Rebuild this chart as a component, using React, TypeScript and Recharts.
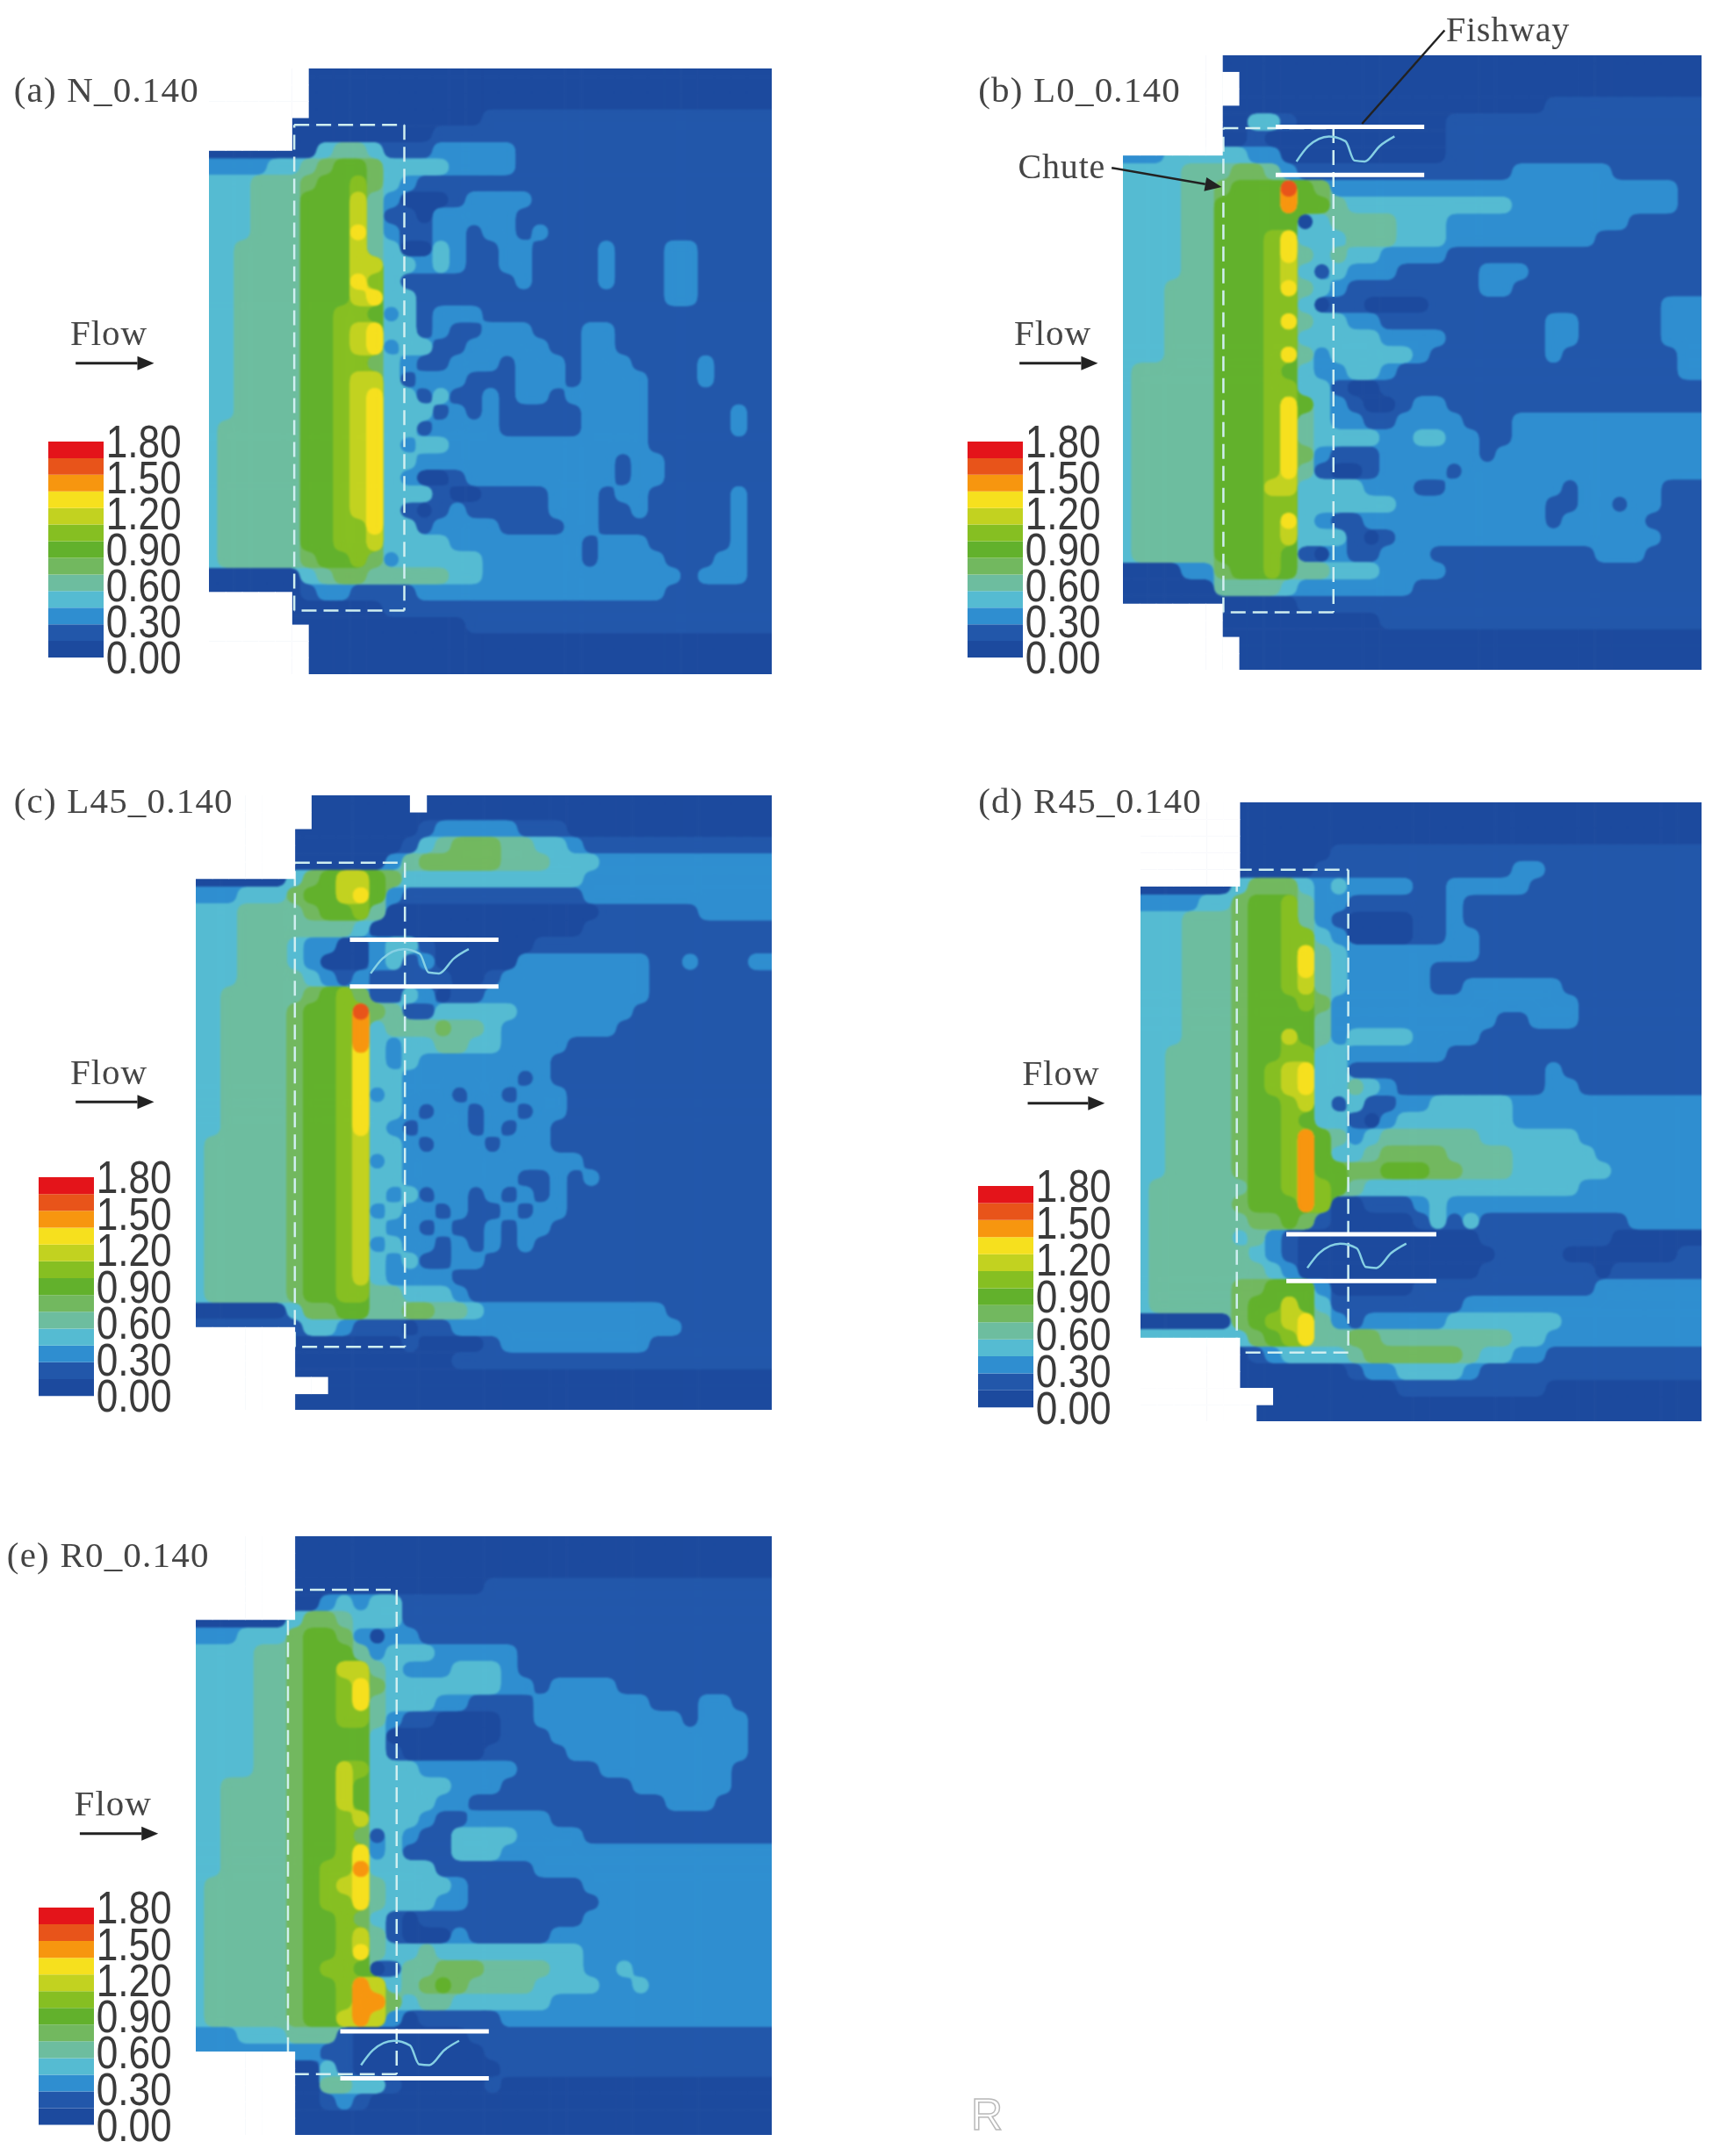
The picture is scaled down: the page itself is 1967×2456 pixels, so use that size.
import React from 'react';
import { ScatterChart, Scatter, XAxis, YAxis, ReferenceLine, BarChart, Bar } from 'recharts';

const S = 1.567;
const PALETTE: Record<string, string> = {
  '0': '#1c4a9e', '1': '#2257aa', '2': '#2f8ed0', '3': '#55bbd2', '4': '#6dbd9f', '5': '#72b85f', '6': '#62b12c',
  '7': '#86bf22', '8': '#c2d220', '9': '#f6e01e', a: '#f7960f', b: '#e8541a', c: '#e4141a',
};
const LEGEND_LEVELS = ['0', '1', '2', '3', '4', '5', '6', '7', '8', '9', 'a', 'b', 'c'];
const LEGEND_BAND = [0.1385, 0.1385, 0.1385, 0.1385, 0.1385, 0.1385, 0.1385, 0.1385, 0.1385, 0.1385, 0.1385, 0.1385, 0.1385];
const LEGEND_TICKS = [0, 0.3, 0.6, 0.9, 1.2, 1.5, 1.8];

// Velocity class per cell, each row is read left to right off the picture; '.' is outside the domain.
const gridA = [
  '...... 0', '...... 0', '...... 0',
  '.....0 00000000000 1', '.....0 00000000 1',
  '000000 0344311122222 1',
  '222233 4566533332222 1',
  '333444 5667532 1',
  '333444 66684200012222 1',
  '333444 6668411022222 1',
  '333444 6669421122122121 1',
  '334444 6668430032112211112111221111',
  '334444 6668833232112211112111221111',
  '334444 6669731111111211112111221111',
  '334444 6668933111111111111111221111',
  '334444 6677623122211111 1',
  '334444 6678933121122211122 1',
  '334444 6678923311222221122 1',
  '334444 6677532112221222122211112111',
  '334444 6678831222111222122221112111',
  '334444 6678933131121221222221 1',
  '334444 6678933312121111122221111121',
  '344444 6678933122221111122221111121',
  '344444 6678932332222222222221 1',
  '344444 6678933222222222222122 1',
  '344444 6678932001222222222122 1',
  '344444 6678933310011112221221111121',
  '344444 6678931012111112221121111121',
  '344444 6677933122221111221111111121',
  '344444 6677833332222222212221111121',
  '344444 5667523333322222212222111221',
  '000000 3455444443322222222222212221',
  '.....0 1221111222222222222222111111',
  '.....0 0000011111 1',
  '...... 0000000000 1',
  '...... 0', '...... 0',
];
const gridB = [
  '...... 0', '....... 0', '....... 0',
  '...... 00000000000000000000 1',
  '...... 00331000000000 1',
  '...... 00100000000000 1',
  '222333 33220000000000 1',
  '333344 45542 1111111111111 222222 1',
  '333344 5666b6522 2222222222222222222 1',
  '333344 6666a664 3333333333 2222222222 1',
  '333344 66666 0 3 4 444 333 22222222222 1',
  '333344 66679333444333 222222222 1',
  '333344 66679434332222 1',
  '333344 6667831322211111 222 1',
  '333444 6667943211111111 22 1',
  '333444 66677301100001 1111111111111 22',
  '333444 66679433221 111111111 22 11111 22',
  '333444 66677333332222 111111 22 11111 22',
  '333444 66679423333321 111111 21 111111 2',
  '344444 66676322332 11111111111111111 2',
  '344444 66677331001 1',
  '344444 666796321001 22 1',
  '344444 666794322112222 111 2',
  '344444 666794333322332211 2',
  '344444 66679521112222221 2',
  '344444 666794100122221 2',
  '344444 66688333322211 2222222 1 22222 1',
  '344444 666773333332 22222222 11 22 1 22 1',
  '344444 6667932112 2222222222 1 22222 1',
  '344444 66678333101 2222222222222222 1',
  '344444 6667610211222 1111111111 222 1',
  '000022 56676443332222 1',
  '000000 444432222222 1',
  '...... 00000 1',
  '...... 0000000000 1',
  '....... 0', '....... 0',
];
const gridC = [
  '....... 000000 . 0', '....... 0',
  '...... 00000000 1 22222 111 0',
  '...... 0000000 1 3 4 555 44 33 2 1',
  '...... 000000 2 4 55555 444 333 2',
  '000000 3568865 3333333333 3 2',
  '222333 566896 2 11111111111 2',
  '333444 456674 0000000000000 111111 2',
  '333444 44443 0000000000000 1',
  '333444 322002 33 1 000000 1',
  '333444 320002312 00000 22222222 11 2 111 2',
  '333444 432121 1111 00 1 222222222 1',
  '334444 456751 1 3 2 0 11 2222222222 1',
  '334444 5667b5 4 11 33333 2222222 1',
  '334444 5667a3 444 5 44 3 2222222 1',
  '334444 5667a3 2 33 44 33 2222 1',
  '334444 566793 23 22222222 1',
  '334444 566793 3 2222222 1 2 1',
  '334444 566792 3 222 1 22 1 222 1',
  '334444 566793 3 2 1 22 1 22 1 22 1',
  '334444 566793 2 1 222 1 2 1 22 1',
  '344444 566783 3 2 1 222 1 222 1',
  '344444 566782 3 22222222222 1',
  '344444 566783 3 2222222 11 2 1 2 1',
  '344444 566783 2 3 1 22 1 2 1 2 1 2 1',
  '344444 566782 3 22 1 2 11 2 1 22 1',
  '344444 566783 2 2 1 2 11 2 1 22 1',
  '344444 566782 3 22 1 2 1 2 1 2 1',
  '344444 566783 2 3 11 22 1',
  '344444 566783 2 222 1',
  '344444 566774 4 333 2 1',
  '000000 3 5 5 6 6 4 4 5 5 4 4 3 22222222222 1',
  '...... 1 3 3 2 1 1 1 0 1 1 22222222222222 1',
  '...... 0000000 1 0000 1 222222222 1',
  '...... 0000000000 1',
  '........ 0', '...... 0',
];
const gridD = [
  '...... 0', '...... 0', '...... 0',
  '...... 000000 1',
  '...... 00000 111111111111 22 1',
  '000000 355532 3 2222 11 22222 1',
  '222233 566742 2 111111 2 1',
  '333444 566742 1 0000 11 2 1',
  '333444 566773 2 0000 11 22 1',
  '333444 566794 3 22222222 1',
  '333444 566794 3 22222 1',
  '333444 566784 3 22222 11 222222 1',
  '333444 566675 2 22222222222222 1',
  '333444 566664 2 222222222 11 222 1',
  '333444 566864 2 3333 2222 1',
  '334444 566773 3 222222 1',
  '334444 567893 3 111111111111 2 1',
  '334444 567893 3 4 3 2 111111111 22 1',
  '334444 566783 1 3 11 2 2 3 3 3 3 3 2',
  '334444 566763 3 1 0 2 3333333 2',
  '334444 5667a6 4 2 3 444444 333333 2',
  '334444 5667a6 3 3 4 5555 4444 33333 2',
  '334444 5667a6 6 55 666 55 444 333333 2',
  '344444 4667a7 6 4 3333333333333 2',
  '344444 5666a7 00 111 2 3 2 2',
  '344444 455651 00000 1 3 1 3 111111111 2',
  '344444 342100 000000000 11111111 0',
  '344444 432100 0000000000 1111 0000000 1',
  '344444 443200 000000000 1111111 0 1',
  '344444 556662 00000 11111111111 2',
  '344444 566863 11111111 2',
  '000000 567894 2 1 22222 3333333 2',
  '...... 356794 4 55 4444444 4 33 2',
  '...... 012333 3 4 555555 4 33 22 1',
  '...... 0000000 1 22 3333 2 1',
  '........ 00000000 111111111 0',
  '....... 0',
];
const gridE = [
  '...... 0', '...... 0', '...... 0',
  '...... 000000000000 1',
  '...... 00232331 1',
  '000000 355433 3 1',
  '222333 566520 2 2 1',
  '333344 566642 333 22222 1',
  '333344 566884 3 22 2 333 2 1',
  '333344 566795 3333333 22 1 2222 1',
  '333344 566794 333 22 1111 2222222 111 22 1',
  '333344 566774 2 11 0000 11 222222222 1 222 1',
  '333344 566663 0000000 111 222222222222 1',
  '333344 566663 1 00000 11111 22222222222 1',
  '333344 566873 33 222222 11111 22222222 1',
  '334444 566863 3333 222 11111111 222222 1',
  '334444 566863 333 22 111111111111 222 1',
  '334444 566783 33 2 11 22222 1',
  '334444 566751 3 2 11 3333 2222 1',
  '334444 566792 3 111 333 2',
  '334444 5677a3 333 111111 2',
  '344444 567894 3333 2 1111111 2',
  '344444 567794 333 22 11111111 2',
  '344444 566753 1 0 1111111111 2',
  '344444 566784 1 000 2 11111 2',
  '344444 566794 334 33 3333333 2',
  '344444 567760 1 44 555 4444 33 22 3 2',
  '344444 5667a8 3 4 5 6 5 4444 3333 22 3 2',
  '344444 5667aa 5 3 44 333333 2',
  '344444 5668a8 2 0 11111 2',
  '222333 444100 00000 1',
  '...... 221100 000000 1',
  '...... 003100 0000000 1',
  '...... 004433 1 00000 1 0',
  '...... 001210 0',
  '...... 0',
];

const waveA = [0.14, 0.22, 0.36, 0.47, 0.53, 0.6, 0.7, 0.8];
const waveB = [0.72, 0.4, 0.2, 0.3, 0.7, 0.72, 0.4, 0.2];

type Panel = {
  grid: string[]; cols: number; xr: number[]; yr: number[]; box: number[]; bars?: number[];
  label: string; labelAt: number[]; flowAt: number[]; arrow: number[]; legend: number[];
};
const panels: Panel[] = [
  { grid: gridA, cols: 34, xr: [152, 561], yr: [50, 490], box: [214, 294, 91, 444], label: '(a) N_0.140', labelAt: [10, 65], flowAt: [51, 242], arrow: [55, 112, 264], legend: [35, 75, 321, 478] },
  { grid: gridB, cols: 35, xr: [816, 1237], yr: [40, 487], box: [889, 969, 93, 445], bars: [927, 1035, 92, 127], label: '(b) L0_0.140', labelAt: [711, 65], flowAt: [737, 242], arrow: [741, 798, 264], legend: [703, 743, 321, 478] },
  { grid: gridC, cols: 35, xr: [142, 561], yr: [578, 1025], box: [214, 294, 627, 979], bars: [254, 362, 683, 717], label: '(c) L45_0.140', labelAt: [10, 582], flowAt: [51, 779], arrow: [55, 112, 801], legend: [28, 68, 856, 1015] },
  { grid: gridD, cols: 34, xr: [829, 1237], yr: [583, 1033], box: [899, 980, 632, 983], bars: [935, 1044, 897, 931], label: '(d) R45_0.140', labelAt: [711, 582], flowAt: [743, 780], arrow: [747, 803, 802], legend: [711, 751, 862, 1023] },
  { grid: gridE, cols: 35, xr: [142, 561], yr: [1117, 1552], box: [209, 288, 1156, 1508], bars: [247, 355, 1477, 1511], label: '(e) R0_0.140', labelAt: [5, 1130], flowAt: [54, 1311], arrow: [58, 115, 1333], legend: [28, 68, 1387, 1545] },
];

function expand(grid: string[], cols: number) {
  return grid.map((raw) => {
    const s = raw.replace(/\s/g, '');
    return s.padEnd(cols, s[s.length - 1]).slice(0, cols);
  });
}

function Field({ p }: { p: Panel }) {
  const rows = expand(p.grid, p.cols);
  const nr = rows.length;
  const W = (p.xr[1] - p.xr[0]) * S;
  const H = (p.yr[1] - p.yr[0]) * S;
  const cw = W / p.cols;
  const ch = H / nr;
  const ux = (p.xr[1] - p.xr[0]) / p.cols;
  const uy = (p.yr[1] - p.yr[0]) / nr;
  const PAD = 40;
  const OV = 4;
  const cells: any[] = [];
  const white: any[] = [];
  rows.forEach((row, r) => {
    for (let c = 0; c < p.cols; c++) {
      let lv = row[c];
      const base = { c, r };
      if (lv === '.') {
        white.push({ ...base, x: p.xr[0] + (c + 0.5) * ux, y: p.yr[0] + (r + 0.5) * uy });
        lv = row.slice(c).replace(/\./g, '')[0] || '0';
      }
      // Values were read at each cell's upper-left corner, so they are centred there.
      cells.push({ ...base, x: p.xr[0] + c * ux, y: p.yr[0] + r * uy, rank: LEGEND_LEVELS.indexOf(lv) });
    }
  });
  const rectFor = (q: any, pad: number) => {
    const d = q.payload;
    const x0 = q.cx - cw / 2 - (d.c === 0 ? pad : 0);
    const x1 = q.cx + cw / 2 + (d.c === p.cols - 1 ? pad : 0.6);
    const y0 = q.cy - ch / 2 - (d.r === 0 ? pad : 0);
    const y1 = q.cy + ch / 2 + (d.r === nr - 1 ? pad : 0.6);
    return { x: x0, y: y0, width: x1 - x0, height: y1 - y0 };
  };
  const whiteShape = (q: any) => <rect {...rectFor(q, OV)} fill="#ffffff" />;
  const wave = p.bars
    ? waveA.map((f, i) => ({ x: p.bars![0] + f * (p.bars![1] - p.bars![0]), y: p.bars![2] + waveB[i] * (p.bars![3] - p.bars![2]) }))
    : [];
  const [bx0, bx1, by0, by1] = p.box;
  const boxSegs = [
    [bx0, by0, bx1, by0], [bx1, by0, bx1, by1], [bx1, by1, bx0, by1], [bx0, by1, bx0, by0],
  ];
  const left = p.xr[0] * S;
  const top = p.yr[0] * S;
  return (
    <>
      <div style={{ position: 'absolute', left, top, width: W, height: H, overflow: 'hidden' }}>
        <div style={{ position: 'absolute', left: 0, top: 0, width: W, height: H, filter: 'blur(1.3px)' }}>
          {LEGEND_LEVELS.map((lv, k) => {
            const subset = cells.filter((d) => d.rank >= k);
            if (subset.length === 0) return null;
            const shape = (q: any) => <rect {...rectFor(q, PAD)} fill={PALETTE[lv]} />;
            return (
              <div key={lv} style={{ position: 'absolute', left: -PAD, top: -PAD, filter: k === 0 ? undefined : 'url(#contour)' }}>
                <ScatterChart width={W + 2 * PAD} height={H + 2 * PAD} margin={{ top: PAD, right: PAD, bottom: PAD, left: PAD }}>
                  <XAxis type="number" dataKey="x" domain={p.xr} hide />
                  <YAxis type="number" dataKey="y" domain={p.yr} reversed hide />
                  <Scatter data={subset} isAnimationActive={false} shape={shape} />
                </ScatterChart>
              </div>
            );
          })}
        </div>
      </div>
      <div style={{ position: 'absolute', left: left - OV, top: top - OV, filter: 'blur(0.7px)' }}>
        <ScatterChart width={W + 2 * OV} height={H + 2 * OV} margin={{ top: OV, right: OV, bottom: OV, left: OV }}>
          <XAxis type="number" dataKey="x" domain={p.xr} hide />
          <YAxis type="number" dataKey="y" domain={p.yr} reversed hide />
          <Scatter data={white} isAnimationActive={false} shape={whiteShape} />
          {wave.length > 0 && (
            <Scatter data={wave} isAnimationActive={false} line={{ stroke: '#86d0e4', strokeWidth: 2.5 }} lineJointType="monotone" shape={() => null as any} />
          )}
          {boxSegs.map((s, i) => (
            <ReferenceLine key={i} ifOverflow="visible" segment={[{ x: s[0], y: s[1] }, { x: s[2], y: s[3] }]} stroke="#cfeef0" strokeWidth={2.5} strokeDasharray="17 8" />
          ))}
          {p.bars && [p.bars[2], p.bars[3]].map((y, i) => (
            <ReferenceLine key={'b' + i} ifOverflow="visible" segment={[{ x: p.bars![0], y }, { x: p.bars![1], y }]} stroke="#ffffff" strokeWidth={5} />
          ))}
        </ScatterChart>
      </div>
    </>
  );
}

function LegendTick({ x, y, payload }: any) {
  return (
    <text transform={`translate(${x - 3},${y}) scale(0.85,1)`} fontFamily="Liberation Sans" fontSize={52} fill="#3a3a3a" dominantBaseline="central">
      {Number(payload.value).toFixed(2)}
    </text>
  );
}

function Legend({ at }: { at: number[] }) {
  const row: any = { name: 'v' };
  LEGEND_LEVELS.forEach((l, i) => (row[l] = LEGEND_BAND[i]));
  const M = 34;
  const bw = (at[1] - at[0]) * S;
  const h = (at[3] - at[2]) * S;
  return (
    <div style={{ position: 'absolute', left: at[0] * S, top: at[2] * S - M, filter: 'blur(0.7px)' }}>
      <BarChart width={bw + 110} height={h + 2 * M} data={[row]} barCategoryGap={0} margin={{ top: M, bottom: M, left: 0, right: 0 }}>
        <XAxis dataKey="name" hide />
        <YAxis orientation="right" type="number" domain={[0, 1.8]} ticks={LEGEND_TICKS} interval={0} width={110} axisLine={false} tickLine={false} tickMargin={0} tick={<LegendTick />} />
        {LEGEND_LEVELS.map((l) => (
          <Bar key={l} dataKey={l} stackId="s" fill={PALETTE[l]} isAnimationActive={false} />
        ))}
      </BarChart>
    </div>
  );
}

const serif: React.CSSProperties = { position: 'absolute', fontFamily: 'Liberation Serif', color: '#454545', whiteSpace: 'nowrap', lineHeight: 1, transform: 'translateY(-50%)', filter: 'blur(0.6px)' };

function Arrow({ a, b, w = 3 }: { a: number[]; b: number[]; w?: number }) {
  const [x1, y1, x2, y2] = [a[0] * S, a[1] * S, b[0] * S, b[1] * S];
  const t = Math.atan2(y2 - y1, x2 - x1);
  const L = 19, W = 8;
  const bx = x2 - L * Math.cos(t), by = y2 - L * Math.sin(t);
  const pts = `${x2},${y2} ${bx - W * Math.sin(t)},${by + W * Math.cos(t)} ${bx + W * Math.sin(t)},${by - W * Math.cos(t)}`;
  return (
    <g>
      <line x1={x1} y1={y1} x2={bx} y2={by} stroke="#222" strokeWidth={w} />
      <polygon points={pts} fill="#222" />
    </g>
  );
}

export default function App() {
  return (
    <div style={{ position: 'absolute', left: 0, top: 0, width: 1967, height: 2456, background: '#fff', overflow: 'hidden' }}>
      <svg width={0} height={0} style={{ position: 'absolute' }}>
        <defs>
          <filter id="contour" colorInterpolationFilters="sRGB" x="0" y="0" width="100%" height="100%">
            <feGaussianBlur stdDeviation="6" />
            <feComponentTransfer>
              <feFuncA type="linear" slope="24" intercept="-11.5" />
            </feComponentTransfer>
          </filter>
        </defs>
      </svg>
      {panels.map((p) => (
        <React.Fragment key={p.label}>
          <Field p={p} />
          <Legend at={p.legend} />
          <div style={{ ...serif, left: p.labelAt[0] * S, top: p.labelAt[1] * S, fontSize: 41, letterSpacing: 1.2 }}>{p.label}</div>
          <div style={{ ...serif, left: p.flowAt[0] * S, top: p.flowAt[1] * S, fontSize: 41, letterSpacing: 1 }}>Flow</div>
        </React.Fragment>
      ))}
      <div style={{ ...serif, left: 1051 * S, top: 22 * S, fontSize: 40, letterSpacing: 0.8 }}>Fishway</div>
      <div style={{ ...serif, left: 740 * S, top: 121 * S, fontSize: 40, letterSpacing: 0.8 }}>Chute</div>
      <div style={{ position: 'absolute', left: 1106, top: 2380, fontFamily: 'Liberation Sans', fontSize: 50, color: 'transparent', WebkitTextStroke: '1.5px #b9b9b9' } as React.CSSProperties}>R</div>
      <svg width={1967} height={2456} style={{ position: 'absolute', left: 0, top: 0, filter: 'blur(0.5px)' }}>
        {panels.map((p) => (
          <Arrow key={p.label} a={[p.arrow[0], p.arrow[2]]} b={[p.arrow[1], p.arrow[2]]} />
        ))}
        <line x1={1050 * S} y1={22 * S} x2={990 * S} y2={90 * S} stroke="#222" strokeWidth={2.5} />
        <Arrow a={[808, 122]} b={[888, 136]} w={2.5} />
      </svg>
    </div>
  );
}
